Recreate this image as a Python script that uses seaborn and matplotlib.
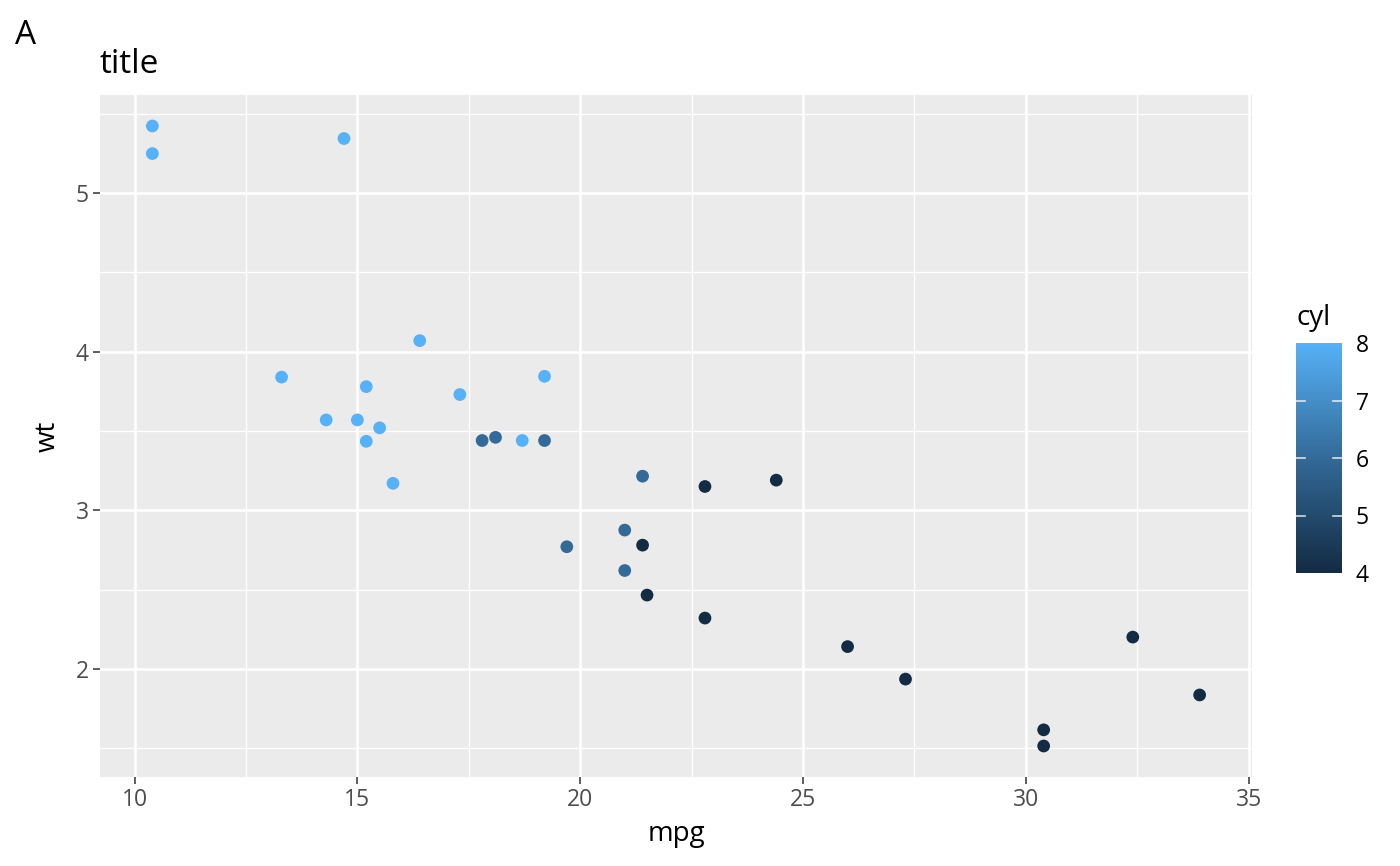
import pandas as pd
import matplotlib
import matplotlib.pyplot as plt
import seaborn as sns
from matplotlib.colors import LinearSegmentedColormap, Normalize
from matplotlib.cm import ScalarMappable

# mtcars
mpg = [21.0, 21.0, 22.8, 21.4, 18.7, 18.1, 14.3, 24.4, 22.8, 19.2, 17.8, 16.4, 17.3, 15.2, 10.4, 10.4,
       14.7, 32.4, 30.4, 33.9, 21.5, 15.5, 15.2, 13.3, 19.2, 27.3, 26.0, 30.4, 15.8, 19.7, 15.0, 21.4]
wt = [2.620, 2.875, 2.320, 3.215, 3.440, 3.460, 3.570, 3.190, 3.150, 3.440, 3.440, 4.070, 3.730, 3.780, 5.250, 5.424,
      5.345, 2.200, 1.615, 1.835, 2.465, 3.520, 3.435, 3.840, 3.845, 1.935, 2.140, 1.513, 3.170, 2.770, 3.570, 2.780]
cyl = [6, 6, 4, 6, 8, 6, 8, 4, 4, 6, 6, 8, 8, 8, 8, 8, 8, 4, 4, 4, 4, 8, 8, 8, 8, 4, 4, 4, 8, 6, 8, 4]

x_ticks = [10, 15, 20, 25, 30, 35]
y_ticks = [2, 3, 4, 5]
cyl_ticks = [4, 5, 6, 7, 8]

df = pd.DataFrame({"mpg": mpg, "wt": wt, "cyl": cyl})

# ggplot default gradient
cmap = LinearSegmentedColormap.from_list("gg", ["#132B43", "#336A98", "#56B1F7"])

plt.rcParams['font.family'] = ['Open Sans', 'DejaVu Sans']

fig = plt.figure(figsize=(14, 8.66), dpi=100)
ax = fig.add_axes([100 / 1400, 1 - 777 / 866, 1152 / 1400, 682 / 866])

sns.scatterplot(data=df, x="mpg", y="wt", hue="cyl", palette=cmap, hue_norm=(4, 8),
                s=84, linewidth=0, legend=False, ax=ax, zorder=3)

ax.set_facecolor("#EBEBEB")
for sp in ax.spines.values():
    sp.set_visible(False)

x_range = max(mpg) - min(mpg)
y_range = max(wt) - min(wt)
ax.set_xlim(min(mpg) - 0.05 * x_range, max(mpg) + 0.05 * x_range)
ax.set_ylim(min(wt) - 0.05 * y_range, max(wt) + 0.05 * y_range)

ax.set_xticks(x_ticks)
ax.set_yticks(y_ticks)
ax.set_xticks([12.5, 17.5, 22.5, 27.5, 32.5], minor=True)
ax.set_yticks([1.5, 2.5, 3.5, 4.5, 5.5], minor=True)
ax.grid(which="major", color="white", linewidth=1.9)
ax.grid(which="minor", color="white", linewidth=0.95)
ax.set_axisbelow(True)

ax.tick_params(which="major", length=5, width=1.1, color="#333333",
               labelsize=16.5, labelcolor="#4D4D4D", pad=3)
ax.tick_params(which="minor", length=0)

ax.set_xlabel("mpg", fontsize=20, color="black", labelpad=6)
ax.set_ylabel("wt", fontsize=20, color="black", labelpad=10)

fig.text(100 / 1400, 1 - 73 / 866, "title", fontsize=24, va="baseline", ha="left")
fig.text(15 / 1400, 1 - 44 / 866, "A", fontsize=24, va="baseline", ha="left")

# colourbar
cax = fig.add_axes([1296 / 1400, 1 - 573 / 866, 46 / 1400, 230 / 866])
sm = ScalarMappable(norm=Normalize(4, 8), cmap=cmap)
cb = fig.colorbar(sm, cax=cax, ticks=cyl_ticks)
cb.outline.set_visible(False)
cax.tick_params(length=0, labelsize=16.5, labelcolor="black", pad=10)
for t in cyl_ticks[1:-1]:
    cax.plot([0, 0.2], [t, t], color="white", lw=1.2, alpha=0.8, transform=cax.get_yaxis_transform())
    cax.plot([0.8, 1], [t, t], color="white", lw=1.2, alpha=0.8, transform=cax.get_yaxis_transform())
fig.text(1296 / 1400, 1 - 325 / 866, "cyl", fontsize=20, va="baseline", ha="left")

fig.savefig("out.png", dpi=100)
